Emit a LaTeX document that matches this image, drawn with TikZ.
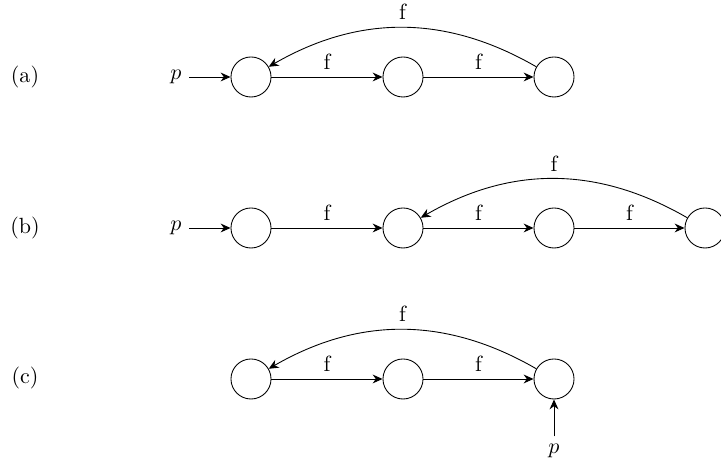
\documentclass[tikz,border=0pt]{standalone}
\usetikzlibrary{arrows.meta}
\begin{document}
\begin{tikzpicture}[x=0.4545pt,y=0.4545pt,
  state/.style={circle,draw,fill=white,minimum size=18.2pt,inner sep=0pt},
  edge/.style={-{Stealth[length=4.5pt,width=4pt]}}]
\useasboundingbox (0,0) rectangle (721,469);
% row (a)
\node (la) at (25,392) {(a)};
\node (pa) at (176,392) {$p$};
\node[state] (a1) at (251,392) {};
\node[state] (a2) at (403,392) {};
\node[state] (a3) at (554,392) {};
\draw[edge] (pa) -- (a1);
\draw[edge] (a1) -- node[above]{f} (a2);
\draw[edge] (a2) -- node[above]{f} (a3);
\draw[edge] (a3) to[bend right=30] node[above]{f} (a1);
% row (b)
\node (lb) at (25,241) {(b)};
\node (pb) at (176,241) {$p$};
\node[state] (b1) at (251,241) {};
\node[state] (b2) at (403,241) {};
\node[state] (b3) at (554,241) {};
\node[state] (b4) at (705,241) {};
\draw[edge] (pb) -- (b1);
\draw[edge] (b1) -- node[above]{f} (b2);
\draw[edge] (b2) -- node[above]{f} (b3);
\draw[edge] (b3) -- node[above]{f} (b4);
\draw[edge] (b4) to[bend right=30] node[above]{f} (b2);
% row (c)
\node (lc) at (25,91) {(c)};
\node[state] (c1) at (251,90) {};
\node[state] (c2) at (403,90) {};
\node[state] (c3) at (554,90) {};
\node (pc) at (554,18) {$p$};
\draw[edge] (pc) -- (c3);
\draw[edge] (c1) -- node[above]{f} (c2);
\draw[edge] (c2) -- node[above]{f} (c3);
\draw[edge] (c3) to[bend right=30] node[above]{f} (c1);
\end{tikzpicture}
\end{document}
